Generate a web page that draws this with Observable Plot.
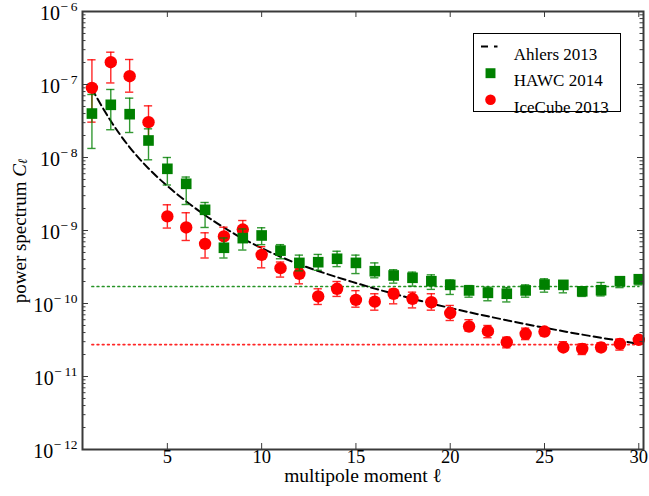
<!DOCTYPE html>
<html><head><meta charset="utf-8">
<script src="https://cdn.jsdelivr.net/npm/d3@7"></script>
<script src="https://cdn.jsdelivr.net/npm/@observablehq/plot@0.6"></script>
<style>body{margin:0;background:#fff}</style>
</head><body>
<script>
// ---- data ----
const ell = [1,2,3,4,5,6,7,8,9,10,11,12,13,14,15,16,17,18,19,20,21,22,23,24,25,26,27,28,29,30];
const ahlers = [8.71e-8,3.16e-8,1.38e-8,7.08e-9,4.07e-9,2.51e-9,1.62e-9,1.10e-9,7.76e-10,5.75e-10,4.37e-10,3.43e-10,2.79e-10,2.29e-10,1.91e-10,1.60e-10,1.36e-10,1.16e-10,1.0e-10,8.69e-11,7.59e-11,6.67e-11,5.89e-11,5.22e-11,4.66e-11,4.17e-11,3.75e-11,3.39e-11,3.08e-11,2.81e-11];
const hawc = [4.0e-8,5.27e-8,3.92e-8,1.71e-8,7.0e-9,4.36e-9,1.92e-9,5.8e-10,7.86e-10,8.55e-10,5.3e-10,3.6e-10,3.68e-10,4.1e-10,3.6e-10,2.77e-10,2.42e-10,2.25e-10,2.02e-10,1.8e-10,1.51e-10,1.4e-10,1.36e-10,1.51e-10,1.82e-10,1.8e-10,1.47e-10,1.52e-10,2.02e-10,2.15e-10];
const hawcHi = [7.3e-8,8.55e-8,6.5e-8,2.47e-8,1.0e-8,5.4e-9,2.42e-9,7.9e-10,1.05e-9,1.09e-9,6.4e-10,4.6e-10,4.7e-10,5.2e-10,4.6e-10,3.6e-10,2.9e-10,2.69e-10,2.47e-10,2.1e-10,1.76e-10,1.67e-10,1.65e-10,1.8e-10,2.18e-10,2.0e-10,1.7e-10,1.94e-10,2.3e-10,2.47e-10];
const hawcLo = [1.33e-8,2.4e-8,2.2e-8,9.3e-9,4.2e-9,2.27e-9,1.1e-9,4.2e-10,5.4e-10,6.4e-10,4.1e-10,2.8e-10,2.85e-10,3.2e-10,2.57e-10,2.25e-10,1.9e-10,1.73e-10,1.56e-10,1.33e-10,1.22e-10,1.09e-10,1.05e-10,1.22e-10,1.43e-10,1.4e-10,1.25e-10,1.27e-10,1.65e-10,1.8e-10];
const icecube = [9.0e-8,2.02e-7,1.3e-7,3.05e-8,1.56e-9,1.1e-9,6.56e-10,8.3e-10,1.03e-9,4.64e-10,3.05e-10,2.55e-10,1.25e-10,1.59e-10,1.12e-10,1.06e-10,1.36e-10,1.16e-10,1.04e-10,7.4e-11,4.84e-11,4.18e-11,2.95e-11,3.85e-11,4.13e-11,2.5e-11,2.39e-11,2.5e-11,2.8e-11,3.18e-11];
const iceHi = [2.18e-7,2.77e-7,2.2e-7,5.1e-8,2.25e-9,1.75e-9,9.3e-10,1.11e-9,1.37e-9,6.0e-10,3.7e-10,3.0e-10,1.59e-10,2.0e-10,1.5e-10,1.36e-10,1.57e-10,1.43e-10,1.36e-10,9.4e-11,6.0e-11,5.0e-11,3.45e-11,4.6e-11,4.6e-11,3.0e-11,2.8e-11,2.9e-11,3.27e-11,3.6e-11];
const iceLo = [3.05e-8,1.05e-7,7.85e-8,1.9e-8,1.08e-9,7.3e-10,4.2e-10,5.8e-10,7.7e-10,3.08e-10,2.3e-10,1.86e-10,9.7e-11,1.25e-10,8.9e-11,8.1e-11,9.9e-11,8.7e-11,8.1e-11,5.85e-11,4.18e-11,3.4e-11,2.47e-11,3.2e-11,3.6e-11,2.3e-11,2.0e-11,2.2e-11,2.3e-11,2.8e-11];
const hawcNoise = 1.71e-10;
const iceNoise = 2.74e-11;

const xMajor = [5,10,15,20,25,30];
const xTickLabels = ["5","10","15","20","25","30"];
const yMajor = [1e-12,1e-11,1e-10,1e-9,1e-8,1e-7,1e-6];
const yTickBase = "10";
const yTickExp = ["−12","−11","−10","−9","−8","−7","−6"];
const legendLabels = ["Ahlers 2013","HAWC 2014","IceCube 2013"];
const xLabel = "multipole moment ℓ";
const yLabelParts = ["power spectrum ", "C", "ℓ"];

// ---- tables ----
const hawcRows = ell.map((l,i)=>({l, v:hawc[i], hi:hawcHi[i], lo:hawcLo[i]}));
const iceRows = ell.map((l,i)=>({l, v:icecube[i], hi:iceHi[i], lo:iceLo[i]}));
const ahlersRows = ell.map((l,i)=>({l, v:ahlers[i]}));
const hawcNoiseRows = ell.map(l=>({l, v:hawcNoise}));
const iceNoiseRows = ell.map(l=>({l, v:iceNoise}));
const yMinor = yMajor.slice(0,-1).flatMap(d=>[2,3,4,5,6,7,8,9].map(k=>k*d));

// ---- layout ----
const WIDTH=649, HEIGHT=496, ML=82, MR=6, MT=11, MB=47;
const FW = WIDTH-ML-MR, FH = HEIGHT-MT-MB;
const FONT = '"Liberation Serif","Times New Roman",serif';
const GREEN="#008000", RED="#ff0000", AX="#3a3a3a";
const cv = document.createElement("canvas").getContext("2d");
function tw(s,size,style=""){cv.font=`${style} ${size}px "Liberation Serif"`;return cv.measureText(s).width;}

const capHalf = 0.22;
const yTickMarks = yMajor.flatMap((v,i)=>{
  const e = yTickExp[i].replace("−","−\u2009");
  const ew = tw(e,13.5);
  return [
    Plot.text([v],{y:d=>d, frameAnchor:"left", text:()=>yTickBase, textAnchor:"end", dx:-5-ew-0.5, dy:2.5, fontSize:20, fill:"black"}),
    Plot.text([v],{y:d=>d, frameAnchor:"left", text:()=>e, textAnchor:"end", dx:-5, dy:-4.6, fontSize:13.5, fill:"black"})
  ];
});
const xTickMarks = xMajor.map((v,i)=>Plot.text([v],{x:d=>d, frameAnchor:"bottom", text:()=>xTickLabels[i], dy:13.2, fontSize:18.5, fill:"black"}));

// y label pieces (rotated)
const YL=19, w1=tw(yLabelParts[0],YL), wC=tw(yLabelParts[1],YL,"italic"), wL=tw(yLabelParts[2],13);
const Wy = w1+wC+wL;
const yLabelMarks = [
  Plot.text([yLabelParts[0]],{x:null,y:null,frameAnchor:"left",text:d=>d,rotate:-90,textAnchor:"start",dx:-63,dy:Wy/2,fontSize:YL,fill:"black"}),
  Plot.text([yLabelParts[1]],{x:null,y:null,frameAnchor:"left",text:d=>d,rotate:-90,textAnchor:"start",dx:-63,dy:Wy/2-w1,fontSize:YL,fontStyle:"italic",fill:"black"}),
  Plot.text([yLabelParts[2]],{x:null,y:null,frameAnchor:"left",text:d=>d,rotate:-90,textAnchor:"start",dx:-63+3.5,dy:Wy/2-w1-wC,fontSize:13,fontStyle:"italic",fill:"black"})
];

// legend
const LX = 473-ML, LR = WIDTH-MR-620, LT = 33-MT, LB = HEIGHT-MB-111;
const legendMarks = [
  Plot.frame({insetLeft:LX, insetRight:LR, insetTop:LT, insetBottom:LB, fill:"white", stroke:"black", strokeWidth:1}),
  Plot.frame({insetLeft:480.5-ML, insetRight:WIDTH-MR-487.5, insetTop:45-MT, insetBottom:HEIGHT-MB-47, fill:"black", stroke:"none"}),
  Plot.frame({insetLeft:493.5-ML, insetRight:WIDTH-MR-497, insetTop:45-MT, insetBottom:HEIGHT-MB-47, fill:"black", stroke:"none"}),
  Plot.dot([0],{x:null,y:null,frameAnchor:"top-left",dx:490-ML,dy:72.7-MT,symbol:"square",r:5.6,fill:GREEN,stroke:"none"}),
  Plot.dot([0],{x:null,y:null,frameAnchor:"top-left",dx:490-ML,dy:99.3-MT,symbol:"circle",r:5.3,fill:RED,stroke:"none"}),
  ...legendLabels.map((s,i)=>Plot.text([s],{x:null,y:null,frameAnchor:"top-left",text:d=>d,textAnchor:"start",dx:513.3-ML,dy:[47.6,73.6,100.6][i]-MT,fontSize:17,fill:"black"}))
];

const chart = Plot.plot({
  width: WIDTH, height: HEIGHT,
  marginLeft: ML, marginRight: MR, marginTop: MT, marginBottom: MB,
  x: {domain:[0.5,30.25], axis:null},
  y: {type:"log", domain:[1e-12,1e-6], axis:null},
  style: {fontFamily: FONT, background:"white", overflow:"visible"},
  marks: [
    Plot.line(hawcNoiseRows,{x:"l", y:"v", stroke:GREEN, strokeWidth:1.7, strokeDasharray:"1.7,3.5", strokeOpacity:0.85}),
    Plot.line(iceNoiseRows,{x:"l", y:"v", stroke:RED, strokeWidth:1.7, strokeDasharray:"1.7,3.5", strokeOpacity:0.85}),
    Plot.line(ahlersRows,{x:"l", y:"v", stroke:"black", strokeWidth:2, strokeDasharray:"7.4,4", curve:"catmull-rom"}),
    // IceCube
    Plot.ruleX(iceRows,{x:"l", y1:"lo", y2:"hi", stroke:RED, strokeWidth:1.4, strokeOpacity:0.85}),
    Plot.ruleY(iceRows,{y:"hi", x1:d=>d.l-capHalf, x2:d=>d.l+capHalf, stroke:RED, strokeWidth:1.4, strokeOpacity:0.85}),
    Plot.ruleY(iceRows,{y:"lo", x1:d=>d.l-capHalf, x2:d=>d.l+capHalf, stroke:RED, strokeWidth:1.4, strokeOpacity:0.85}),
    Plot.dot(iceRows,{x:"l", y:"v", r:6.2, fill:RED, stroke:"none"}),
    // HAWC
    Plot.ruleX(hawcRows,{x:"l", y1:"lo", y2:"hi", stroke:GREEN, strokeWidth:1.4, strokeOpacity:0.8}),
    Plot.ruleY(hawcRows,{y:"hi", x1:d=>d.l-capHalf, x2:d=>d.l+capHalf, stroke:GREEN, strokeWidth:1.4, strokeOpacity:0.8}),
    Plot.ruleY(hawcRows,{y:"lo", x1:d=>d.l-capHalf, x2:d=>d.l+capHalf, stroke:GREEN, strokeWidth:1.4, strokeOpacity:0.8}),
    Plot.dot(hawcRows,{x:"l", y:"v", r:6, symbol:"square", fill:GREEN, stroke:"none"}),
    // ticks (inward, all four sides)
    Plot.tickX(xMajor,{x:d=>d, insetTop:FH-6, stroke:AX}),
    Plot.tickX(xMajor,{x:d=>d, insetBottom:FH-6, stroke:AX}),
    Plot.tickY(yMajor,{y:d=>d, insetRight:FW-6, stroke:AX}),
    Plot.tickY(yMajor,{y:d=>d, insetLeft:FW-6, stroke:AX}),
    Plot.tickY(yMinor,{y:d=>d, insetRight:FW-3.5, stroke:AX}),
    Plot.tickY(yMinor,{y:d=>d, insetLeft:FW-3.5, stroke:AX}),
    Plot.frame({stroke:AX, strokeWidth:2}),
    ...legendMarks,
    ...yTickMarks,
    ...xTickMarks,
    Plot.text([xLabel],{x:null,y:null,frameAnchor:"bottom",text:d=>d,dy:32.9,fontSize:19.5,fill:"black"}),
    ...yLabelMarks
  ]
});
document.body.appendChild(chart);
</script>
</body></html>
